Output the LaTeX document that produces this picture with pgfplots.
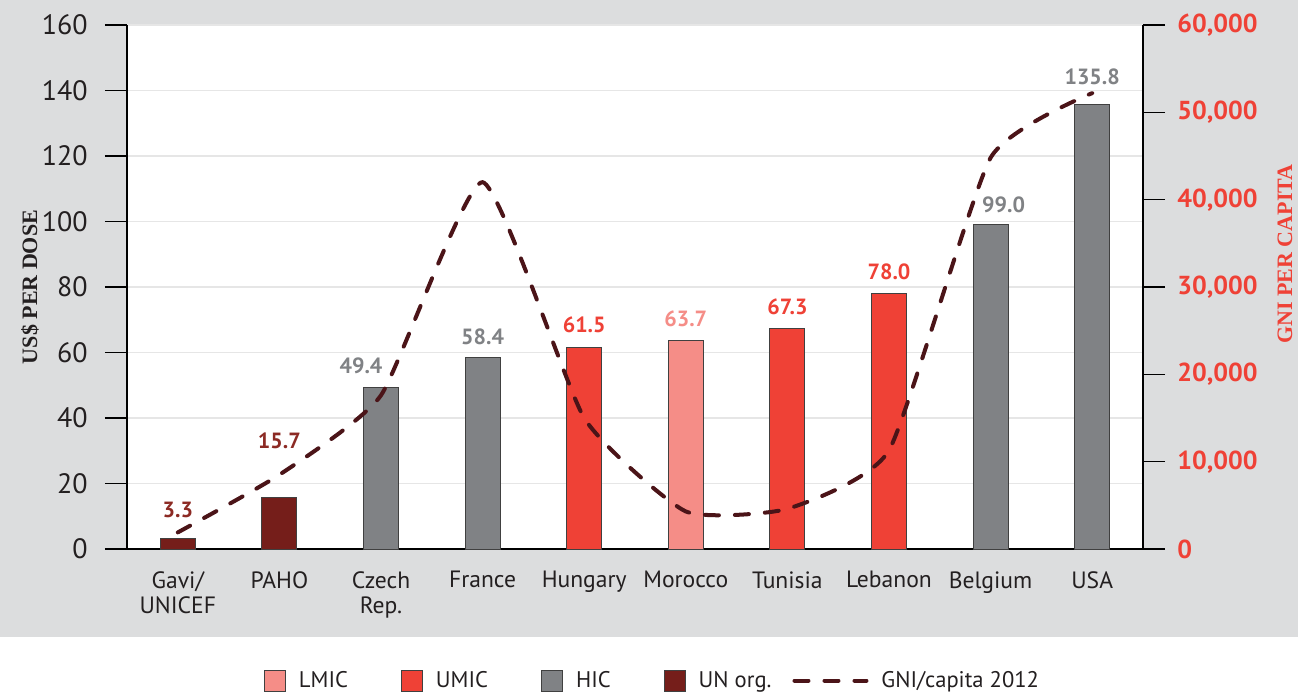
\documentclass[border=0pt]{standalone}
\usepackage{pgfplots}
\pgfplotsset{compat=1.18}
\usepackage{pgfplotstable}
\usepackage{fontspec}
\setmainfont{PT Sans}
\newfontfamily\serifb{Liberation Serif}
\definecolor{bg}{HTML}{DCDDDE}
\definecolor{lmic}{HTML}{F58D87}
\definecolor{umic}{HTML}{EF4136}
\definecolor{hic}{HTML}{808285}
\definecolor{unorg}{HTML}{751E1A}
\definecolor{unlab}{HTML}{8C2A24}
\definecolor{gnil}{HTML}{4B1418}
\definecolor{gridc}{HTML}{E6E6E6}
\definecolor{txt}{HTML}{231F20}
\pgfplotsset{/pgf/number format/assume math mode=true}

\pgfplotstableread{
x y dx dy
5 63.7 0 6.5
}\lmicT
\pgfplotstableread{
x y dx dy
4 61.5 0 7
6 67.3 0 6.5
7 78.0 0 6.5
}\umicT
\pgfplotstableread{
x y dx dy
2 49.4 -10 6.5
3 58.4 0 6
8 99.0 6.5 5.5
9 135.8 0 9.5
}\hicT
\pgfplotstableread{
x y dx dy
0 3.3 0 10
1 15.7 0 24
}\unT
\pgfplotstableread{
x gni
0 1900
1 8500
2 17600
3 42000
4 15000
5 4300
6 4600
7 11300
8 44800
9 52200
}\gniT

\pgfplotsset{
  barsty/.style={ybar, bar width=17.5pt, bar shift=0pt, draw=black!75, line width=0.5pt, fill=#1,
    visualization depends on={\thisrow{dx} \as \mydx},
    visualization depends on={\thisrow{dy} \as \mydy},
    nodes near coords={\pgfmathprintnumber[fixed,fixed zerofill,precision=1]{\pgfplotspointmeta}},
  },
  labsty/.style={every node near coord/.append style={anchor=south, inner sep=0pt, font=\bfseries\fontsize{11}{13}\selectfont, text=#1, xshift=\mydx pt, yshift=\mydy pt}},
  sqleg/.style={legend image code/.code={\draw[fill=#1,draw=black!75,line width=0.5pt] (0pt,-5.25pt) rectangle (10.5pt,5.25pt);}},
  gnileg/.style={legend image code/.code={\draw[##1] (1pt,0pt) -- (37pt,0pt);}},
}

\begin{document}
\begin{tikzpicture}
\fill[bg] (0pt,28pt) rectangle (649pt,346.5pt);
\begin{axis}[
  at={(63.5pt,72pt)}, anchor=south west, scale only axis, width=508pt, height=262pt,
  xmin=-0.5, xmax=9.5, ymin=0, ymax=160,
  axis x line*=bottom, axis y line*=left,
  axis line style={line width=0.8pt, black},
  axis background/.style={fill=white},
  tick align=outside, major tick length=11pt,
  ytick={0,20,...,160},
  ytick style={line width=0.8pt, black},
  yticklabel style={font=\fontsize{14}{16}\selectfont, text=txt, inner sep=0pt, xshift=-8.5pt},
  xtick={0,...,9}, xtick style={draw=none},
  xticklabels={{Gavi/\\UNICEF},PAHO,{Czech\\Rep.},France,Hungary,Morocco,Tunisia,Lebanon,Belgium,USA},
  xticklabel style={align=center, font=\fontsize{11.8}{12.5}\selectfont, text=txt, inner sep=0pt, anchor=north},
  ymajorgrids, grid style={line width=0.75pt, gridc},
  ylabel={US\$\ PER DOSE},
  every axis y label/.style={at={([xshift=-48.5pt]axis description cs:0,0.5)}, rotate=90, anchor=center, font=\serifb\bfseries\fontsize{11}{13}\selectfont, text=txt},
  clip=false,
]
\addplot[barsty=lmic, labsty=lmic] table[x=x,y=y]{\lmicT};
\addplot[barsty=umic, labsty=umic] table[x=x,y=y]{\umicT};
\addplot[barsty=hic, labsty=hic] table[x=x,y=y]{\hicT};
\addplot[barsty=unorg, labsty=unlab] table[x=x,y=y]{\unT};
\end{axis}
\begin{axis}[
  at={(63.5pt,72pt)}, anchor=south west, scale only axis, width=508pt, height=262pt,
  xmin=-0.5, xmax=9.5, ymin=0, ymax=60000,
  axis x line=none, axis y line*=right,
  axis line style={line width=0.8pt, black},
  tick align=outside, major tick length=11pt,
  ytick={0,10000,...,60000}, scaled y ticks=false,
  ytick style={line width=0.8pt, black},
  yticklabel style={font=\bfseries\fontsize{13}{15}\selectfont, text=umic, inner sep=0pt, xshift=6pt, /pgf/number format/1000 sep={,}},
  ylabel={GNI PER CAPITA},
  every axis y label/.style={at={([xshift=71pt]axis description cs:1,0.563)}, rotate=90, anchor=center, font=\serifb\bfseries\fontsize{11}{13}\selectfont, text=umic},
  clip=false,
  legend columns=5,
  legend style={draw=none, fill=none, inner sep=0pt, at={(0.5162,-0.2513)}, anchor=center,
    nodes={inner sep=0pt},
    font=\fontsize{11.3}{13}\selectfont, text=txt,
    /tikz/every odd column/.append style={column sep=6.5pt},
    /tikz/every even column/.append style={column sep=26.5pt}},
  legend cell align=left,
]
\addlegendimage{sqleg=lmic}
\addlegendentry{LMIC}
\addlegendimage{sqleg=umic}
\addlegendentry{UMIC}
\addlegendimage{sqleg=hic}
\addlegendentry{HIC}
\addlegendimage{sqleg=unorg}
\addlegendentry{UN org.\kern-16pt\relax}
\addplot[gnil, line width=2pt, dash pattern=on 7pt off 8pt, line cap=round, smooth, tension=0.3, gnileg] table[x=x,y=gni]{\gniT};
\addlegendentry{GNI/capita 2012}
\end{axis}
\pgfresetboundingbox
\path (0pt,0pt) rectangle (649pt,346.5pt);
\end{tikzpicture}
\end{document}
